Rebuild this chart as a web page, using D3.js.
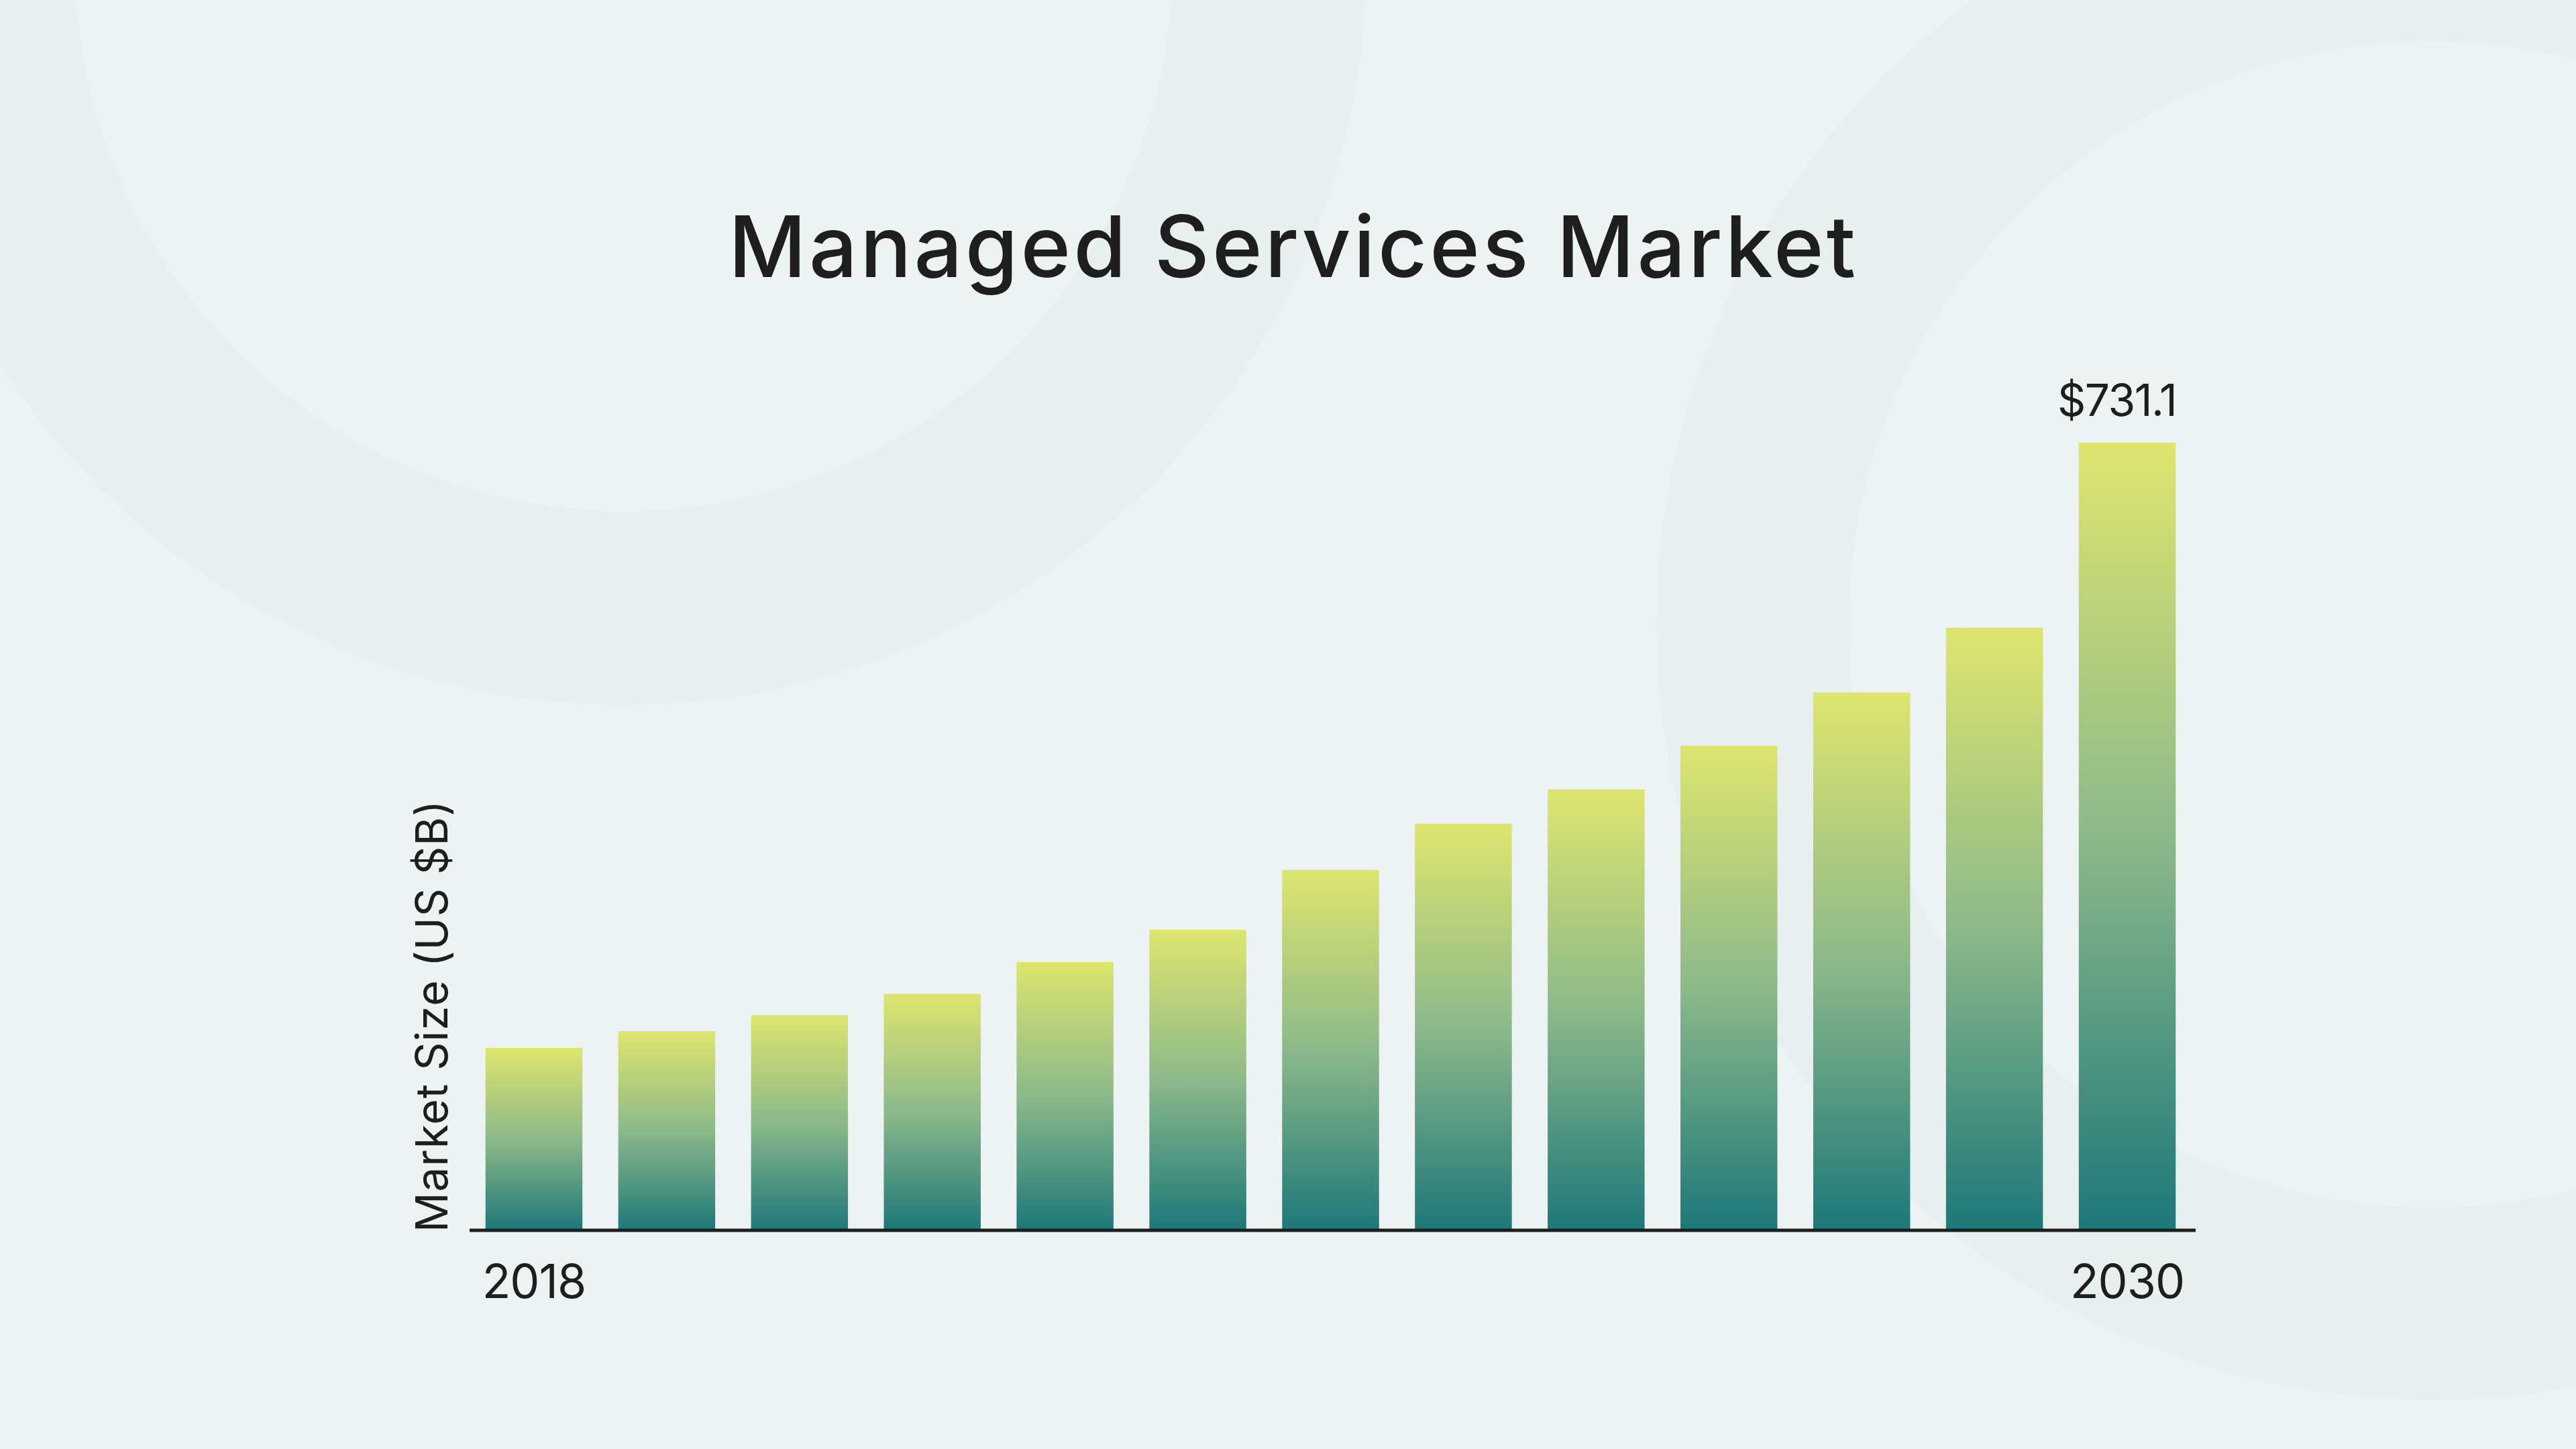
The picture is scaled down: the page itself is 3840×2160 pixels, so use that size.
<!DOCTYPE html>
<html>
<head>
<meta charset="utf-8">
<script src="https://cdn.jsdelivr.net/npm/d3@7"></script>
<style>
  html, body { margin: 0; padding: 0; background: #EDF3F3; }
  svg { display: block; }
</style>
</head>
<body>
<script>
// ---- data ----
const years = ["2018","2019","2020","2021","2022","2023","2024","2025","2026","2027","2028","2029","2030"];
const marketSize = [169.4, 184.9, 199.7, 219.4, 249.1, 279.0, 334.6, 377.5, 409.3, 449.8, 499.2, 559.4, 731.1];
const tickLabels = ["2018", "2030"];
const valueLabels = [{ year: "2030", text: "$731.1" }];
const titleText = "Managed Services Market";
const yAxisTitle = "Market Size (US $B)";

// ---- layout ----
const W = 3840, H = 2160;
const FONT = "Inter, 'Open Sans', sans-serif";

const svg = d3.select("body").append("svg")
  .attr("width", W).attr("height", H)
  .attr("viewBox", `0 0 ${W} ${H}`);

// background
svg.append("rect").attr("width", W).attr("height", H).attr("fill", "#EDF3F3");

// decorative rings
const rings = [
  { cx: 930, cy: -56, R: 1107, r: 818 },
  { cx: 3625, cy: 931, R: 1156, r: 869 }
];
const arcGen = d3.arc();
svg.append("g").selectAll("path").data(rings).join("path")
  .attr("transform", d => `translate(${d.cx},${d.cy})`)
  .attr("d", d => arcGen({ innerRadius: d.r, outerRadius: d.R, startAngle: 0, endAngle: 2 * Math.PI }))
  .attr("fill", "#E8EFEF");

// gradient
const defs = svg.append("defs");
const grad = defs.append("linearGradient").attr("id", "barGrad")
  .attr("x1", 0).attr("y1", 0).attr("x2", 0).attr("y2", 1);
grad.append("stop").attr("offset", "0%").attr("stop-color", "#DEE56E");
grad.append("stop").attr("offset", "50%").attr("stop-color", "#8CB98A");
grad.append("stop").attr("offset", "100%").attr("stop-color", "#1D7879");

// scales
const x = d3.scaleBand().domain(years).range([697, 3270]).paddingInner(0.27).paddingOuter(0.135);
const y = d3.scaleLinear().domain([0, d3.max(marketSize)]).range([1834, 660]);

// bars
svg.append("g").selectAll("rect").data(years).join("rect")
  .attr("x", d => x(d))
  .attr("y", (d, i) => y(marketSize[i]))
  .attr("width", x.bandwidth())
  .attr("height", (d, i) => y(0) - y(marketSize[i]))
  .attr("fill", "url(#barGrad)");

// x axis
const xAxis = d3.axisBottom(x).tickValues(tickLabels).tickSize(0).tickPadding(0);
const gx = svg.append("g").attr("transform", `translate(0,${y(0)})`).call(xAxis);
gx.select(".domain").attr("stroke", "#1E1E1E").attr("stroke-width", 5).attr("d", `M${x.range()[0] + 3},0H${x.range()[1] + 3}`);
gx.selectAll(".tick text")
  .attr("y", 101).attr("dy", null)
  .attr("font-family", FONT).attr("font-size", 70).attr("font-weight", 400)
  .attr("letter-spacing", -1)
  .attr("fill", "#1E1E1E");

// value label
svg.append("g").selectAll("text").data(valueLabels).join("text")
  .attr("x", d => x(d.year) + x.bandwidth() + 1)
  .attr("y", d => y(marketSize[years.indexOf(d.year)]) - 40)
  .attr("text-anchor", "end")
  .attr("font-family", FONT).attr("font-size", 66).attr("font-weight", 400)
  .attr("letter-spacing", -1.5)
  .attr("fill", "#1E1E1E")
  .text(d => d.text);

// y-axis title
const yt = svg.append("text")
  .attr("transform", `translate(667,1837) rotate(-90)`)
  .attr("text-anchor", "start")
  .attr("font-family", FONT).attr("font-size", 66).attr("font-weight", 400)
  .attr("fill", "#1E1E1E")
  .text(yAxisTitle);
{
  const w = yt.node().getComputedTextLength();
  const target = 644;
  const n = yAxisTitle.length;
  yt.attr("letter-spacing", Math.max(-4, Math.min(8, (target - w) / (n - 1))));
}

// title
const title = svg.append("text")
  .attr("x", 1928).attr("y", 413)
  .attr("text-anchor", "middle")
  .attr("font-family", FONT).attr("font-size", 127).attr("font-weight", 500)
  .attr("fill", "#1E1E1E")
  .text(titleText);
{
  const w = title.node().getComputedTextLength();
  const target = 1680;
  const n = titleText.length;
  title.attr("letter-spacing", Math.max(-6, Math.min(10, (target - w) / (n - 1))));
}
</script>
</body>
</html>
